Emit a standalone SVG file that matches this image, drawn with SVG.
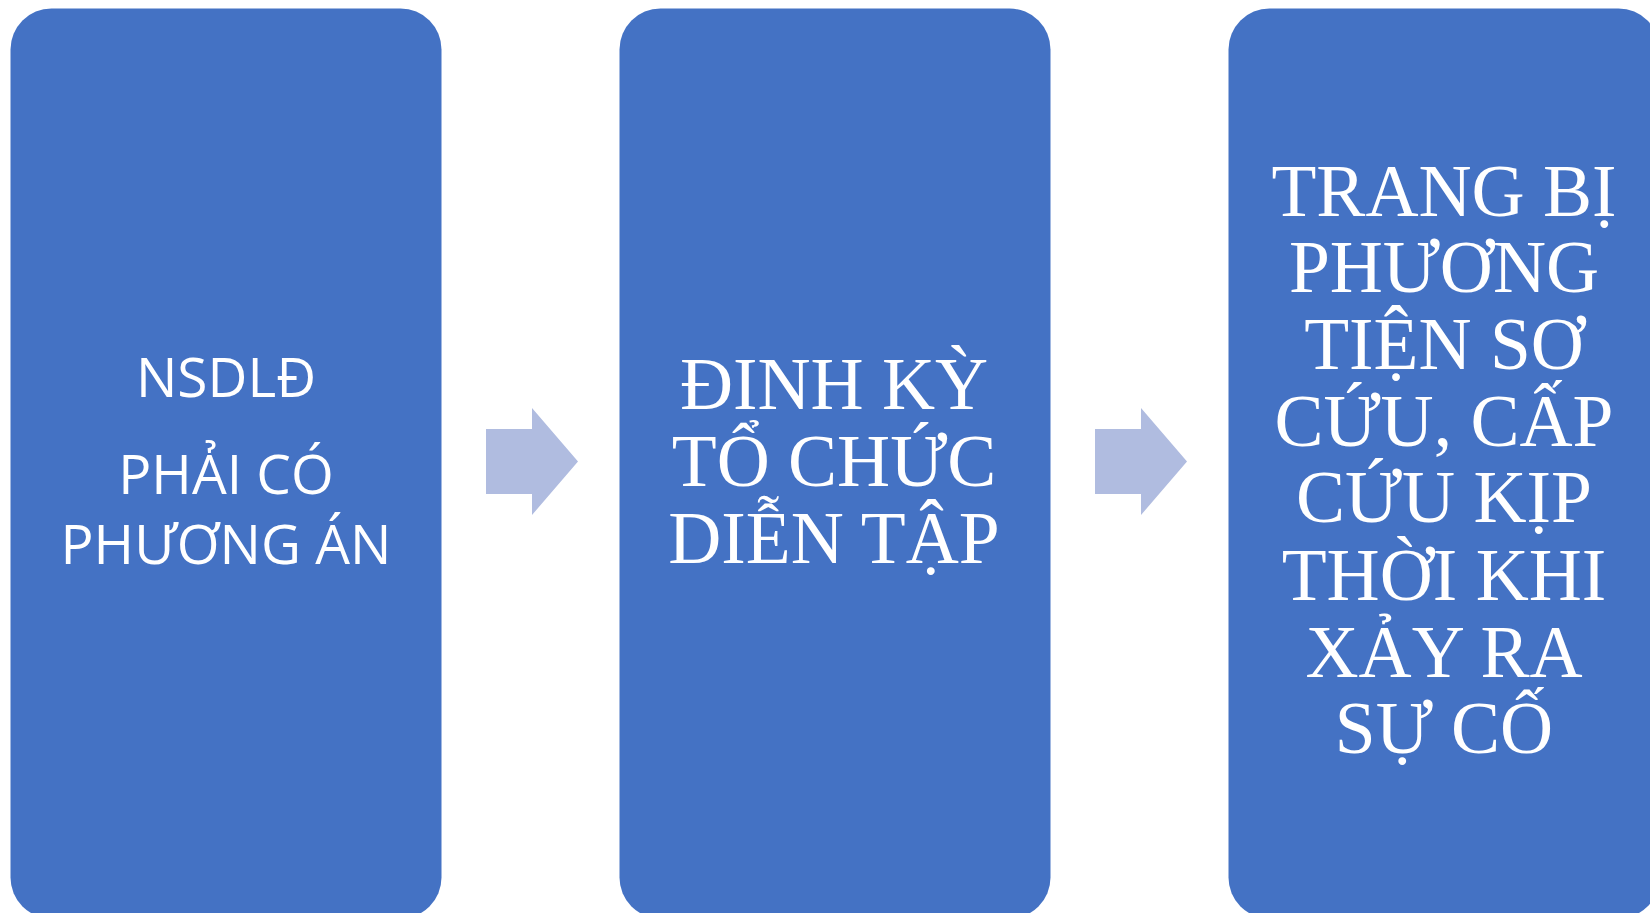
<svg xmlns="http://www.w3.org/2000/svg" width="1650" height="913" viewBox="0 0 1650 913">
<style>
.box{fill:#4472C4}
.arr{fill:#B0BCE0}
.sans{font-family:"Open Sans","Noto Sans",sans-serif;font-size:55px;fill:#fff;text-anchor:middle}
.serif{font-family:"Liberation Serif","DejaVu Serif",serif;font-size:73.5px;fill:#fff;text-anchor:middle}
</style>
<rect width="1650" height="913" fill="#fff"/>
<g id="connectors">
<polygon class="arr" points="486,429 532,429 532,408 578,461.5 532,515 532,494 486,494"/>
<polygon class="arr" points="1095,429 1141,429 1141,408 1187,461.5 1141,515 1141,494 1095,494"/>
</g>
<g id="node1">
<rect class="box" x="10.5" y="8.5" width="431" height="910" rx="41" ry="41"/>
<text class="sans" x="226" y="397">NSDLĐ</text>
<text class="sans" x="226" y="494">PHẢI CÓ</text>
<text class="sans" x="226" y="564">PHƯƠNG ÁN</text>
</g>
<g id="node2">
<rect class="box" x="619.5" y="8.5" width="431" height="910" rx="41" ry="41"/>
<text class="serif" x="834" y="409">ĐINH KỲ</text>
<text class="serif" x="834" y="486">TỔ CHỨC</text>
<text class="serif" x="834" y="563">DIỄN TẬP</text>
</g>
<g id="node3">
<rect class="box" x="1228.5" y="8.5" width="431" height="910" rx="41" ry="41"/>
<text class="serif" x="1444" y="216">TRANG BỊ</text>
<text class="serif" x="1444" y="292">PHƯƠNG</text>
<text class="serif" x="1444" y="369">TIỆN SƠ</text>
<text class="serif" x="1444" y="446">CỨU, CẤP</text>
<text class="serif" x="1444" y="522">CỨU KỊP</text>
<text class="serif" x="1444" y="600">THỜI KHI</text>
<text class="serif" x="1444" y="677">XẢY RA</text>
<text class="serif" x="1444" y="753">SỰ CỐ</text>
</g>
</svg>
